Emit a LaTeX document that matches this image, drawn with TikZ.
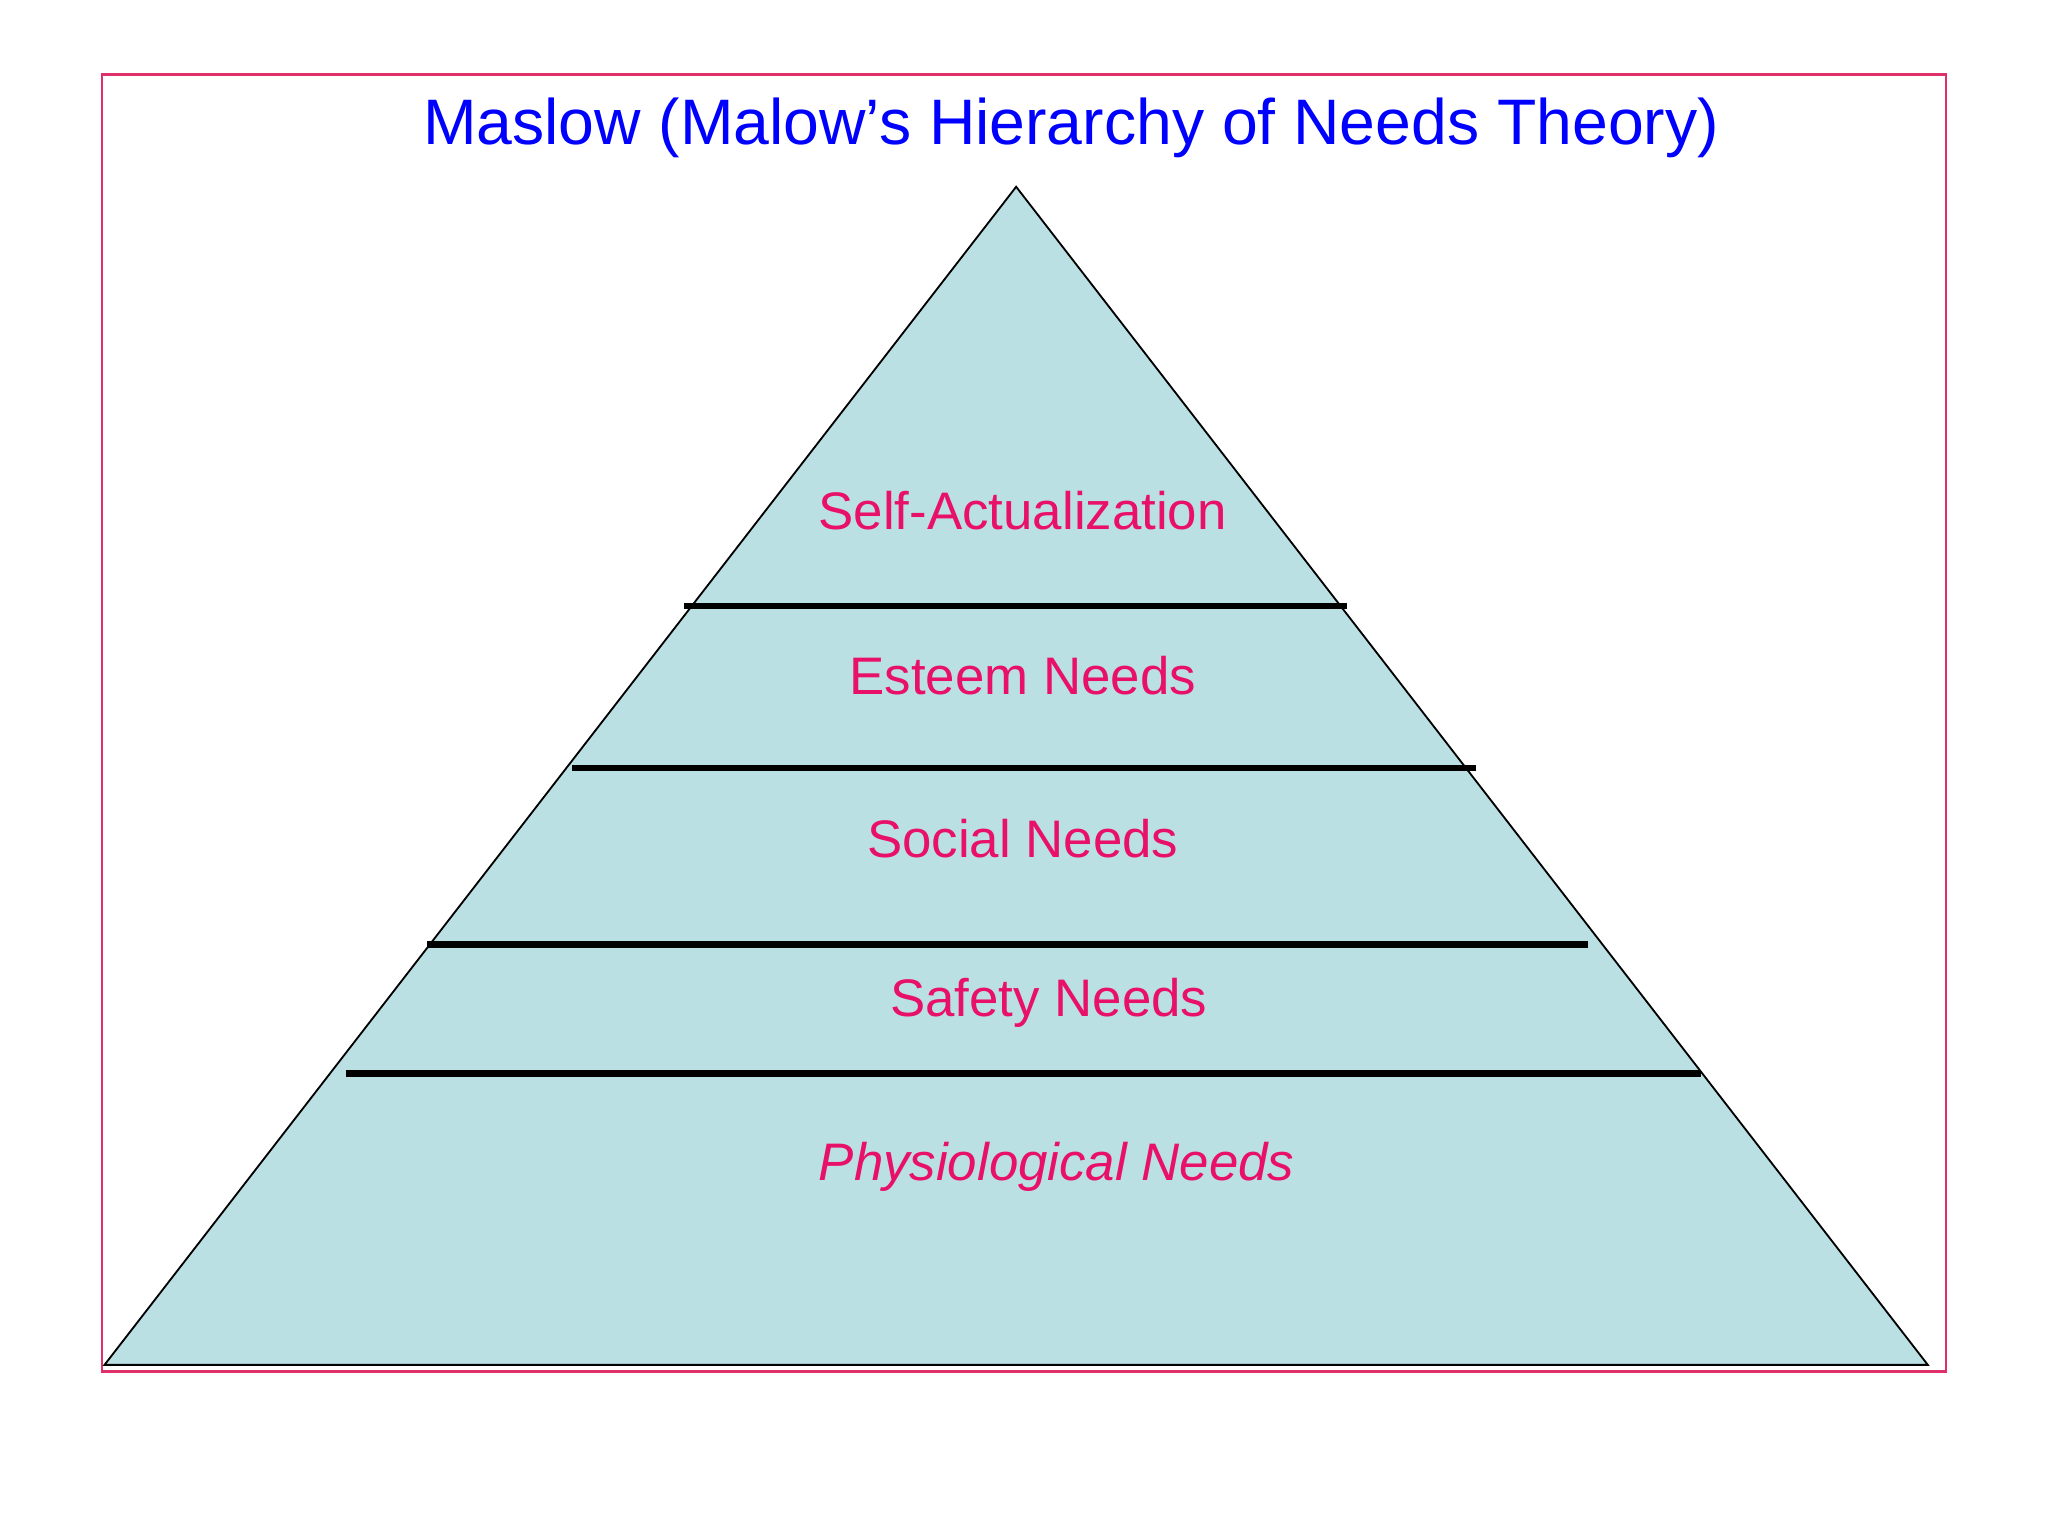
\documentclass[tikz,border=0pt]{standalone}
\usepackage{fontspec}
\setmainfont{Liberation Sans}
\definecolor{pyr}{HTML}{BBE0E3}
\definecolor{lab}{HTML}{E8106A}
\definecolor{frm}{HTML}{E0306A}
\begin{document}
\begin{tikzpicture}[x=0.01cm,y=-0.01cm,
  lvl/.style={line width=1.4pt},
  lbl/.style={text=lab,font=\fontsize{11.5}{13}\selectfont}]
\useasboundingbox (0,0) rectangle (1568,1176);
\draw[frm,line width=0.5pt] (78,57) rectangle (1490,1050);
\node[text=blue,font=\fontsize{14}{16}\selectfont] (title) at (820,98) {Maslow (Malow’s Hierarchy of Needs Theory)};
\coordinate (apex) at (778,143);
\coordinate (bl) at (80,1045);
\coordinate (br) at (1476,1045);
\draw[fill=pyr,line width=0.4pt] (apex) -- (bl) -- (br) -- cycle;
\draw[lvl] (524,464) -- (1031,464);
\draw[lvl] (438,588) -- (1130,588);
\draw[lvl] (327,723) -- (1216,723);
\draw[lvl] (265,822) -- (1302,822);
\node[lbl] (l1) at (783,391) {Self-Actualization};
\node[lbl] (l2) at (783,517) {Esteem Needs};
\node[lbl] (l3) at (783,642) {Social Needs};
\node[lbl] (l4) at (803,768) {Safety Needs};
\node[lbl,font=\fontsize{11.5}{13}\selectfont\itshape] (l5) at (809,893) {Physiological Needs};
\end{tikzpicture}
\end{document}
